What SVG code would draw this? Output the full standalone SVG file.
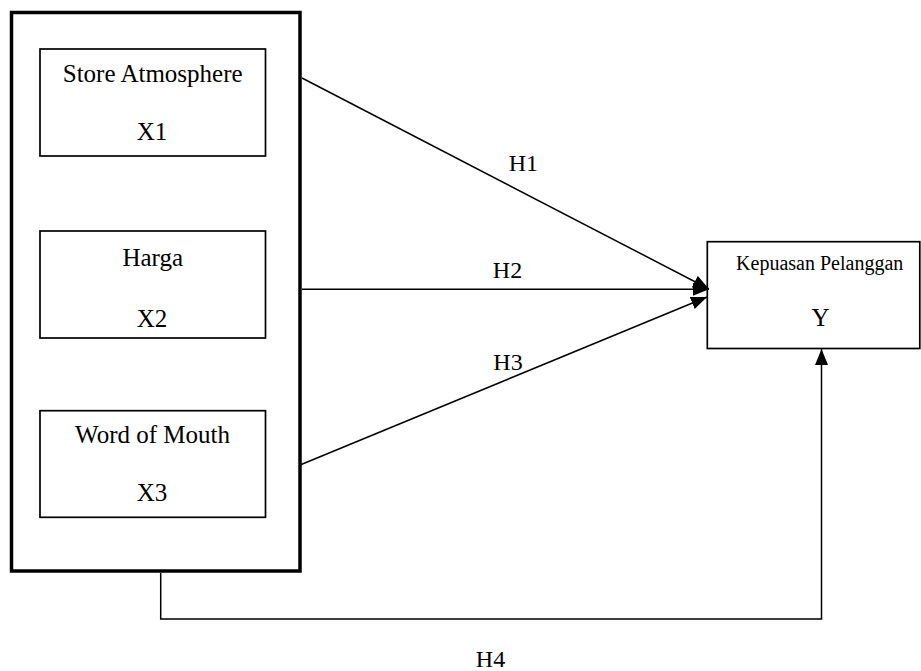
<svg xmlns="http://www.w3.org/2000/svg" width="921" height="671" viewBox="0 0 921 671">
<defs>
<style>
text{font-family:'Liberation Serif','Times New Roman',Times,serif;fill:#000;text-anchor:middle}
.big{font-size:25px}
.mid{font-size:24px}
.sm{font-size:20px}
.box{fill:#fff;stroke:#000;stroke-width:1.7}
.con{fill:none;stroke:#000;stroke-width:1.5}
</style>
<marker id="ah" markerUnits="userSpaceOnUse" markerWidth="17" markerHeight="14" refX="16" refY="6.5" orient="auto">
<path d="M0,0 L16,6.5 L0,13 Z" fill="#000"/>
</marker>
</defs>
<rect width="921" height="671" fill="#fff"/>
<g id="outer">
<rect x="11.5" y="12.5" width="288.5" height="558.5" fill="#fff" stroke="#000" stroke-width="3.5"/>
</g>
<g id="x1">
<rect class="box" x="40" y="49" width="225.5" height="107"/>
<text class="big" x="152.7" y="82">Store Atmosphere</text>
<text class="big" x="152" y="140">X1</text>
</g>
<g id="x2">
<rect class="box" x="40" y="231" width="225.5" height="107"/>
<text class="big" x="152.7" y="266">Harga</text>
<text class="big" x="152" y="327">X2</text>
</g>
<g id="x3">
<rect class="box" x="40" y="410.7" width="225.5" height="106.6"/>
<text class="big" x="152.5" y="443">Word of Mouth</text>
<text class="big" x="152" y="501">X3</text>
</g>
<g id="y">
<rect class="box" x="707.3" y="241.7" width="212.5" height="106.8"/>
<text class="sm" x="819.7" y="270">Kepuasan Pelanggan</text>
<text class="big" x="820.5" y="326">Y</text>
</g>
<g id="connectors">
<line class="con" x1="302" y1="78" x2="709" y2="289" marker-end="url(#ah)"/>
<line class="con" x1="302" y1="289.3" x2="709" y2="289.3" marker-end="url(#ah)"/>
<line class="con" x1="300" y1="465" x2="707" y2="297" marker-end="url(#ah)"/>
<polyline class="con" points="160.7,573 160.7,619 821.5,619 821.5,349" marker-end="url(#ah)"/>
<text class="mid" x="523.3" y="171">H1</text>
<text class="mid" x="507.5" y="278">H2</text>
<text class="mid" x="508" y="370">H3</text>
<text class="mid" x="490.5" y="667">H4</text>
</g>
</svg>
